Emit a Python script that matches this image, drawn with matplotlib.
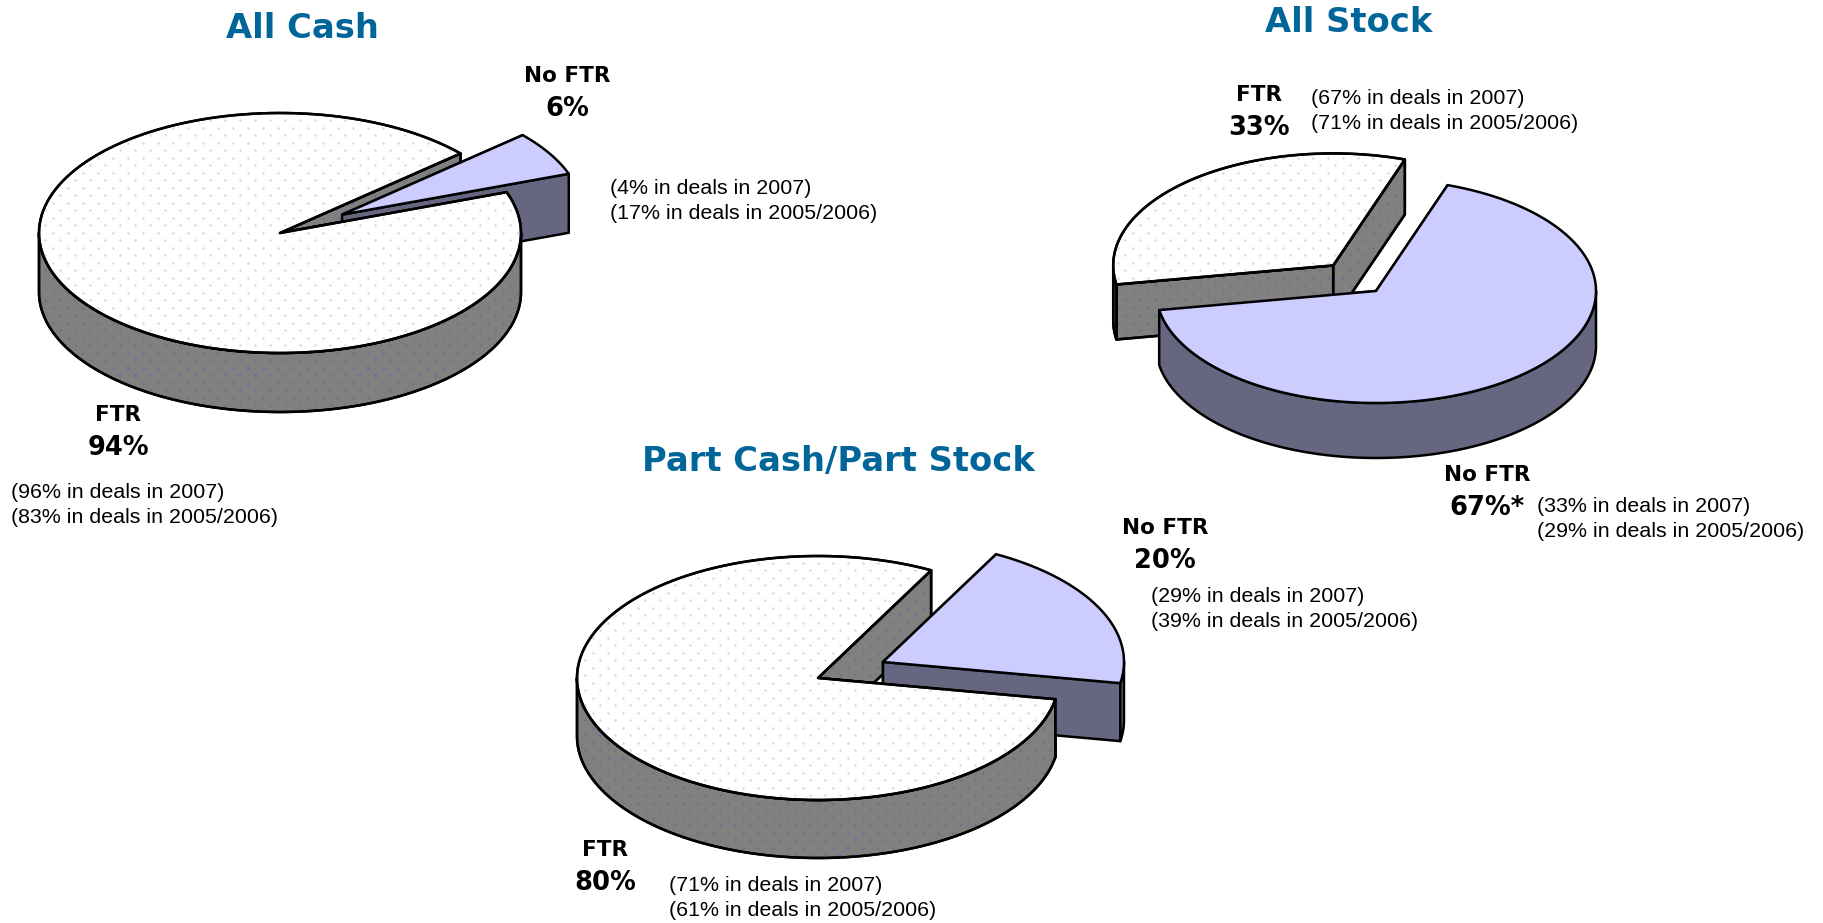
import numpy as np
import matplotlib
matplotlib.use("Agg")
import matplotlib.pyplot as plt
from matplotlib.patches import Polygon

W, H = 1823, 923

# slice order is clockwise from the start angle, like the source chart
labels = ["No FTR", "FTR"]
all_cash = [6, 94]
all_stock = [67, 33]
part_mix = [20, 80]

TOP_COLORS = {"No FTR": "#CCCCFF", "FTR": "#FFFFFF"}
WALL_COLORS = {"No FTR": "#666680", "FTR": "#808080"}
TOP_DOTS = {"FTR": "#D8D8F6"}
WALL_DOTS = {"FTR": "#6E6E98"}

EXPLODE = 0.30
N_ARC = 160
LW = 1.8


def ell(c, rx, ry, deg):
    a = np.radians(deg)
    return np.column_stack([c[0] + rx * np.cos(a), c[1] - ry * np.sin(a)])


def patch(ax, pts, face, dots=None):
    p = Polygon(pts, closed=True, facecolor=face, edgecolor="black", lw=LW, joinstyle="round")
    ax.add_patch(p)
    if dots:
        # staggered print pattern of the fill, clipped to the face
        xs = np.arange(0, W, 15.0)
        ys = np.arange(0, H, 7.5)
        gx, gy = np.meshgrid(xs, ys)
        gx = gx + 7.5 * (np.arange(len(ys)) % 2)[:, None]
        sc = ax.scatter(gx.ravel(), gy.ravel(), s=3.4, marker="o", color=dots, linewidths=0)
        sc.set_clip_path(p)
        # outline again so the dots stay under it
        ax.add_patch(Polygon(pts, closed=True, facecolor="none", edgecolor="black", lw=LW, joinstyle="round"))


def cut_wall(ax, c, rx, ry, d, deg, label):
    p = ell(c, rx, ry, np.array([deg]))[0]
    patch(ax, [c, p, (p[0], p[1] + d), (c[0], c[1] + d)], WALL_COLORS[label], WALL_DOTS.get(label))


def outer_wall(ax, c, rx, ry, d, a_lo, a_hi, label):
    # only the part of the rim on the near side of the disc shows
    for k in (-1, 0, 1):
        lo, hi = max(a_lo, 360 * k - 180), min(a_hi, 360 * k)
        if hi <= lo:
            continue
        arc = ell(c, rx, ry, np.linspace(lo, hi, N_ARC))
        patch(ax, np.vstack([arc, arc[::-1] + [0, d]]), WALL_COLORS[label], WALL_DOTS.get(label))


def top_face(ax, c, rx, ry, a_lo, a_hi, label):
    arc = ell(c, rx, ry, np.linspace(a_lo, a_hi, N_ARC))
    patch(ax, np.vstack([[c], arc]), TOP_COLORS[label], TOP_DOTS.get(label))


def exploded_pie(ax, c, rx, ry, d, values, start, pull):
    """values clockwise from start; pull is the index of the slice moved out."""
    spans = []
    a = start
    for v in values:
        sweep = v / sum(values) * 360
        spans.append((a - sweep, a))
        a -= sweep
    stay = 1 - pull
    lo, hi = spans[pull]
    mid = np.radians((lo + hi) / 2)
    c2 = (c[0] + EXPLODE * rx * np.cos(mid), c[1] - EXPLODE * ry * np.sin(mid))

    # back cut walls of the slice that stays, then the pulled slice, then the rest
    slo, shi = spans[stay]
    cut_wall(ax, c, rx, ry, d, slo, labels[stay])
    cut_wall(ax, c, rx, ry, d, shi, labels[stay])

    cut_wall(ax, c2, rx, ry, d, hi, labels[pull])
    cut_wall(ax, c2, rx, ry, d, lo, labels[pull])
    outer_wall(ax, c2, rx, ry, d, lo, hi, labels[pull])
    top_face(ax, c2, rx, ry, lo, hi, labels[pull])

    outer_wall(ax, c, rx, ry, d, slo, shi, labels[stay])
    top_face(ax, c, rx, ry, slo, shi, labels[stay])


fig = plt.figure(figsize=(W / 100, H / 100), dpi=100)
ax = fig.add_axes([0, 0, 1, 1])
ax.set_xlim(0, W)
ax.set_ylim(H, 0)
ax.axis("off")

exploded_pie(ax, (280, 233), 241, 120, 59, all_cash, 41.5, 0)
exploded_pie(ax, (1376, 291), 220, 112, 55, all_stock, 71, 1)
exploded_pie(ax, (818, 678), 241, 122, 58, part_mix, 62, 0)

TITLE = "#006699"
for txt, x, y in [("All Cash", 302, 29), ("All Stock", 1349, 23), ("Part Cash/Part Stock", 838, 461)]:
    ax.text(x, y, txt, color=TITLE, fontsize=24.3, fontweight="bold", family="DejaVu Sans", ha="center", va="center")

for name, pct, x, y in [("No FTR", "6%", 567, 76), ("FTR", "94%", 118, 415),
                        ("FTR", "33%", 1259, 95), ("No FTR", "67%*", 1487, 475),
                        ("No FTR", "20%", 1165, 528), ("FTR", "80%", 605, 850)]:
    ax.text(x, y, name, fontsize=15.5, fontweight="bold", family="DejaVu Sans", ha="center", va="center")
    ax.text(x, y + 33, pct, fontsize=18.5, fontweight="bold", family="DejaVu Sans", ha="center", va="center")

for txt, x, y in [("(4% in deals in 2007)\n(17% in deals in 2005/2006)", 610, 201),
                  ("(96% in deals in 2007)\n(83% in deals in 2005/2006)", 11, 505),
                  ("(67% in deals in 2007)\n(71% in deals in 2005/2006)", 1311, 111),
                  ("(33% in deals in 2007)\n(29% in deals in 2005/2006)", 1537, 519),
                  ("(29% in deals in 2007)\n(39% in deals in 2005/2006)", 1151, 609),
                  ("(71% in deals in 2007)\n(61% in deals in 2005/2006)", 669, 898)]:
    ax.text(x, y, txt, fontsize=15.4, family="Liberation Sans", ha="left", va="center", linespacing=1.38)

fig.savefig("out.png", dpi=100, facecolor="white")
